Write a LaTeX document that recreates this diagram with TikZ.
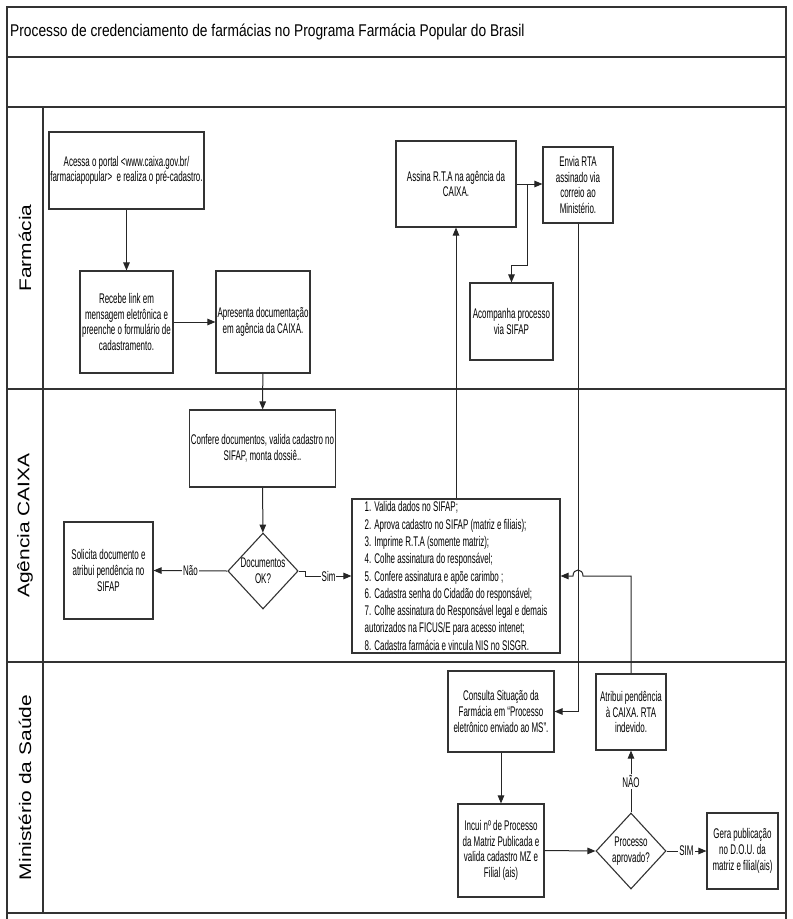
\documentclass[tikz,border=0pt]{standalone}
\usepackage{fontspec}
\setmainfont{Liberation Sans}
\newfontfamily\titlefont{Liberation Sans}[FakeStretch=0.81]
\newfontfamily\boxfont{Liberation Sans}[FakeStretch=0.57]
\newfontfamily\lanefont{Liberation Sans}[FakeStretch=1.25]
\usetikzlibrary{arrows.meta,shapes.geometric}
\tikzset{
  frame/.style={line width=1.5pt, draw=black!80},
  box/.style={draw=black!80, line width=1.1pt, fill=white, inner sep=1pt, align=center,
    font=\boxfont\fontsize{14}{15.7}\selectfont},
  dia/.style={box, shape=diamond, minimum width=70pt, minimum height=76pt, inner sep=0pt},
  conn/.style={draw=black!85, line width=1pt, -{Triangle[length=8pt,width=6.5pt]}},
  lbl/.style={fill=white, inner sep=1pt, font=\boxfont\fontsize{14}{15.7}\selectfont},
  lane/.style={rotate=90, font=\lanefont\fontsize{16.75}{20}\selectfont},
}
\begin{document}
\begin{tikzpicture}[x=1pt,y=-1pt]
\useasboundingbox (0,0) rectangle (793,919);
% frame
\draw[frame] (7,919) -- (7,7) -- (786,7) -- (786,919);
\draw[frame] (7,57) -- (786,57);
\draw[frame] (7,107) -- (786,107);
\draw[frame] (7,389) -- (786,389);
\draw[frame] (7,662) -- (786,662);
\draw[frame] (7,913) -- (786,913);
\draw[frame] (43,107) -- (43,913);
\node[anchor=west, inner sep=0pt, font=\titlefont\fontsize{17}{20}\selectfont] (title) at (10,32)
  {Processo de credenciamento de farmácias no Programa Farmácia Popular do Brasil};
\node[lane] (l1) at (25,248) {Farmácia};
\node[lane] (l2) at (25,525.5) {Agência CAIXA};
\node[lane] (l3) at (25,787.5) {Ministério da Saúde};
% Farmacia lane
\node[box, minimum width=155pt, minimum height=77pt] (acessa) at (126.5,170.5)
  {Acessa o portal <www.caixa.gov.br/\\farmaciapopular>\ \ e realiza o pré-cadastro.};
\node[box, minimum width=93pt, minimum height=102pt] (recebe) at (126.5,322)
  {Recebe link em\\mensagem eletrônica e\\preenche o formulário de\\cadastramento.};
\node[box, minimum width=94pt, minimum height=102pt] (apresenta) at (263,322)
  {Apresenta documentação\\em agência da CAIXA.};
\node[box, minimum width=120pt, minimum height=86pt] (assina) at (456,184)
  {Assina R.T.A na agência da\\CAIXA.};
\node[box, minimum width=70pt, minimum height=76pt] (envia) at (578,185)
  {Envia RTA\\assinado via\\correio ao\\Ministério.};
\node[box, minimum width=83pt, minimum height=77pt] (acompanha) at (511.5,321.5)
  {Acompanha processo\\via SIFAP};
% Agencia lane
\node[box, minimum width=145pt, minimum height=77pt] (confere) at (262.5,448.5)
  {Confere documentos, valida cadastro no\\SIFAP, monta dossiê..};
\node[dia] (docok) at (263,571) {Documentos\\OK?};
\node[box, minimum width=89pt, minimum height=97pt] (solicita) at (108.5,570.5)
  {Solicita documento e\\atribui pendência no\\SIFAP};
\node[box, minimum width=208pt, minimum height=154pt, align=left,
  font=\boxfont\fontsize{14}{17.3}\selectfont] (lista) at (456,576)
  {1. Valida dados no SIFAP;\\
   2. Aprova cadastro no SIFAP (matriz e filiais);\\
   3. Imprime R.T.A (somente matriz);\\
   4. Colhe assinatura do responsável;\\
   5. Confere assinatura e apõe carimbo ;\\
   6. Cadastra senha do Cidadão do responsável;\\
   7. Colhe assinatura do Responsável legal e demais\\
   autorizados na FICUS/E para acesso intenet;\\
   8. Cadastra farmácia e vincula NIS no SISGR.};
% Ministerio lane
\node[box, minimum width=106pt, minimum height=81pt] (consulta) at (501,711.5)
  {Consulta Situação da\\Farmácia em “Processo\\eletrônico enviado ao MS”.};
\node[box, minimum width=70pt, minimum height=76pt] (atribui) at (631,712)
  {Atribui pendência\\à CAIXA. RTA\\indevido.};
\node[box, minimum width=86pt, minimum height=93pt] (incui) at (501,850.5)
  {Incui nº de Processo\\da Matriz Publicada e\\valida cadastro MZ e\\Filial (ais)};
\node[dia] (procok) at (631,851) {Processo\\aprovado?};
\node[box, minimum width=71pt, minimum height=76pt] (gera) at (742.5,851)
  {Gera publicação\\no D.O.U. da\\matriz e filial(ais)};
% connectors
\draw[conn] (acessa) -- (recebe);
\draw[conn] (recebe) -- (apresenta);
\draw[conn] (apresenta) -- (confere);
\draw[conn] (confere) -- (docok);
\draw[conn] (docok.west) -- node[lbl] (nao) {Não} (solicita.east);
\draw[conn] (docok.east) -- ++(7,0) |- node[lbl, pos=0.75] (sim) {Sim} (lista.west);
\draw[conn] (lista.north) -- (assina.south);
\draw[conn] (assina.east) -- (envia.west |- assina.east);
\coordinate (br1) at (527,184);
\coordinate (br2) at (527,265);
\draw[conn] (br1) -- (br2) -| (acompanha.north);
\draw[conn] (envia.south) |- (consulta.east);
\coordinate (hopR) at (583,576);
\coordinate (hopL) at (573,576);
\draw[conn] (atribui.north) |- (hopR) .. controls +(0,-8) and +(0,-8) .. (hopL) -- (lista.east);
\draw[conn] (consulta) -- (incui);
\draw[conn] (incui.east) -- (procok.west);
\draw[conn] (procok.north) -- node[lbl] (naoms) {NÃO} (atribui.south);
\draw[conn] (procok.east) -- node[lbl] (simms) {SIM} (gera.west);
\end{tikzpicture}
\end{document}
